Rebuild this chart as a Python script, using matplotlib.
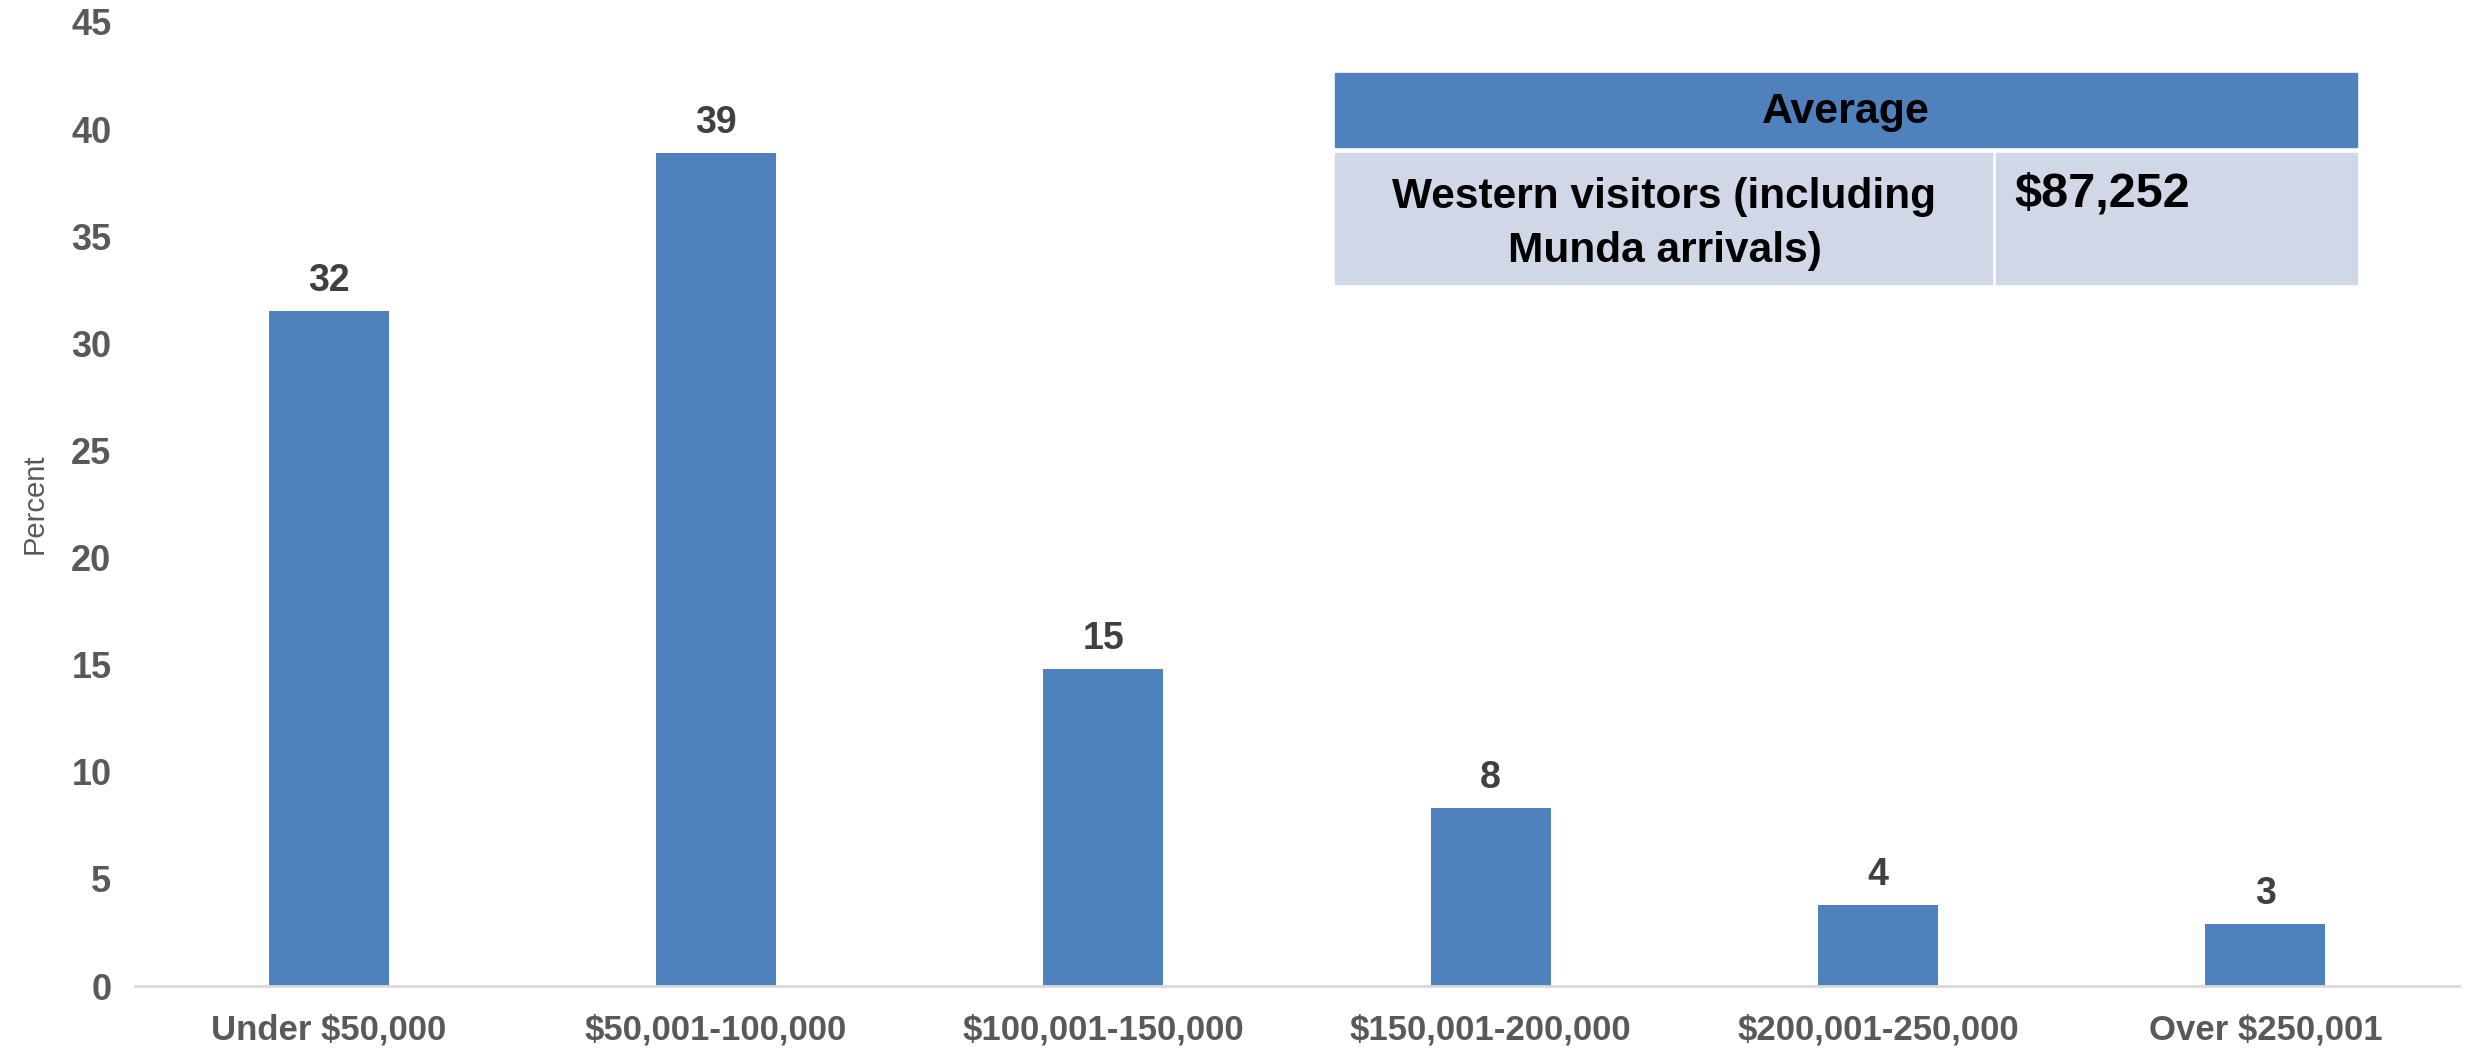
import matplotlib.pyplot as plt
from matplotlib.patches import Rectangle

categories = ["Under $50,000", "$50,001-100,000", "$100,001-150,000",
              "$150,001-200,000", "$200,001-250,000", "Over $250,001"]
percent = [31.5, 38.9, 14.8, 8.3, 3.8, 2.9]
labels = ["32", "39", "15", "8", "4", "3"]

table_header = "Average"
table_row = ["Western visitors (including\nMunda arrivals)", "$87,252"]

BLUE = "#4F81BD"
LIGHT = "#D0D8E8"
plt.rcParams["font.family"] = ["Liberation Sans", "DejaVu Sans"]

W, H = 2478, 1052
fig = plt.figure(figsize=(W / 100, H / 100), dpi=100)
ax = fig.add_axes([135 / W, 1 - 986 / H, (2459 - 135) / W, (986 - 22) / H])

x = range(len(categories))
ax.bar(x, percent, width=0.31, color=BLUE, zorder=2)
for xi, v, lab in zip(x, percent, labels):
    ax.text(xi, v + 0.55, lab, ha="center", va="bottom", fontsize=27,
            fontweight="bold", color="#404040")

ax.set_xlim(-0.5, len(categories) - 0.5)
ax.set_ylim(0, 45)
ax.set_yticks(range(0, 46, 5))
ax.set_xticks(list(x))
ax.set_xticklabels(categories)
ax.tick_params(axis="x", length=0, labelsize=25, labelcolor="#595959", pad=20)
ax.tick_params(axis="y", length=0, labelsize=26, labelcolor="#595959", pad=17)
for t in ax.get_xticklabels() + ax.get_yticklabels():
    t.set_fontweight("bold")
for s in ["top", "right", "left"]:
    ax.spines[s].set_visible(False)
ax.spines["bottom"].set_color("#D9D9D9")
ax.spines["bottom"].set_linewidth(2)
ax.set_ylabel("Percent", fontsize=21, color="#595959", labelpad=16)

# summary table, drawn in pixel coordinates
tax = fig.add_axes([0, 0, 1, 1], zorder=3)
tax.set_xlim(0, W)
tax.set_ylim(H, 0)
tax.axis("off")
x0, x1, xd = 1335, 2357, 1994
tax.add_patch(Rectangle((x0, 73), x1 - x0, 74, color=BLUE))
tax.add_patch(Rectangle((x0, 153), xd - x0 - 2, 131, color=LIGHT))
tax.add_patch(Rectangle((xd + 2, 153), x1 - xd - 2, 131, color=LIGHT))
tax.text((x0 + x1) / 2, 112, table_header, ha="center", va="center",
         fontsize=31, fontweight="bold", color="black")
tax.text((x0 + xd) / 2, 224, table_row[0], ha="center", va="center",
         fontsize=30.5, fontweight="bold", color="black", linespacing=1.45)
tax.text(xd + 20, 172, table_row[1], ha="left", va="top",
         fontsize=35, fontweight="bold", color="black")

fig.savefig("out.png", dpi=100, facecolor="white")
